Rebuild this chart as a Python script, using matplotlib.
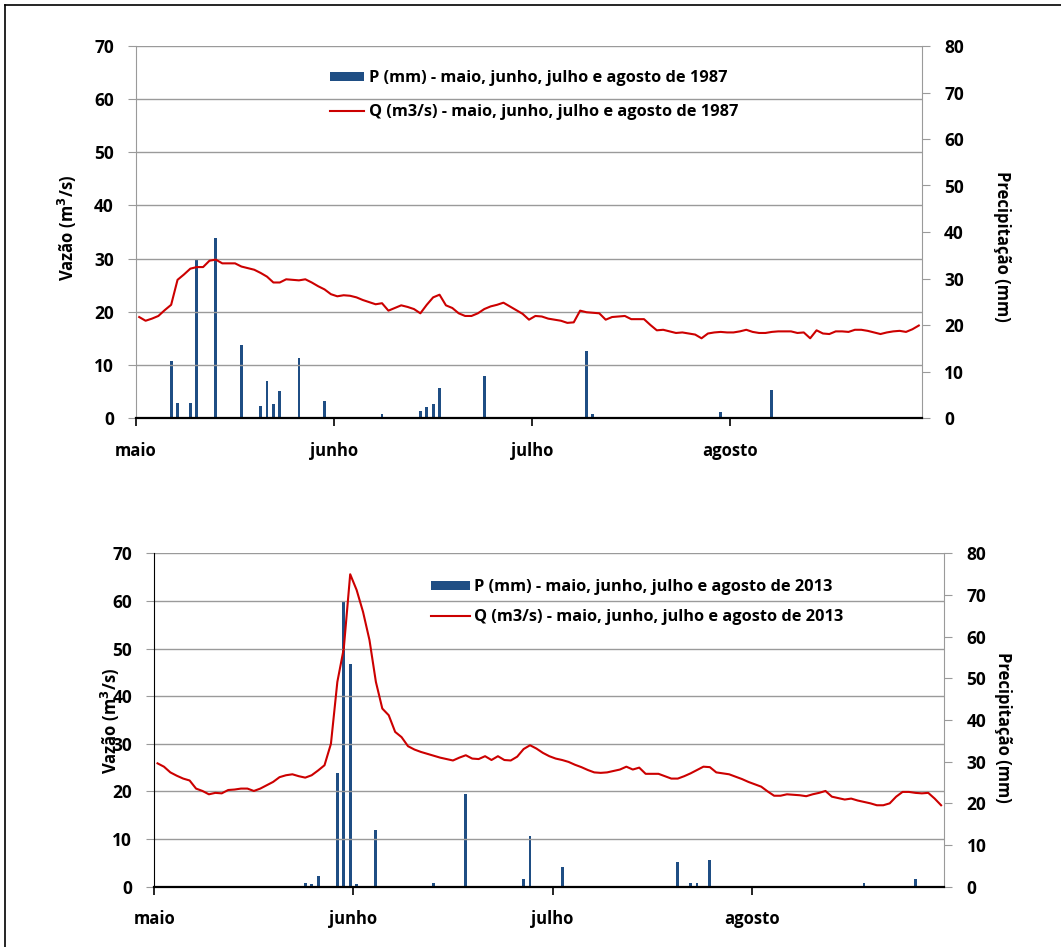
import matplotlib
matplotlib.use("Agg")
import matplotlib.pyplot as plt
from matplotlib.lines import Line2D
import numpy as np

FONT = ['Open Sans', 'DejaVu Sans']
plt.rcParams['font.family'] = FONT

months = ["maio", "junho", "julho", "agosto"]
month_starts = [0, 31, 62, 93]

q_1987 = [19.0, 18.3, 18.7, 19.2, 20.3, 21.3, 26.0, 27.0, 28.1, 28.4,
          28.4, 29.6, 29.8, 29.1, 29.1, 29.1, 28.5, 28.2, 27.9, 27.3,
          26.6, 25.5, 25.5, 26.1, 26.0, 25.9, 26.1, 25.5, 24.8, 24.2,
          23.3, 22.9, 23.1, 23.0, 22.7, 22.2, 21.8, 21.4, 21.6, 20.2,
          20.7, 21.2, 20.9, 20.5, 19.7, 21.3, 22.7, 23.2, 21.2, 20.7,
          19.7, 19.2, 19.2, 19.7, 20.5, 21.0, 21.3, 21.7, 21.0, 20.3,
          19.6, 18.5, 19.2, 19.1, 18.7, 18.5, 18.3, 17.9, 18.0, 20.2,
          19.9, 19.8, 19.7, 18.5, 19.0, 19.1, 19.2, 18.6, 18.6, 18.6,
          17.5, 16.5, 16.6, 16.3, 16.0, 16.1, 15.9, 15.7, 15.0, 15.9,
          16.1, 16.2, 16.1, 16.1, 16.3, 16.6, 16.2, 16.0, 16.0, 16.2,
          16.3, 16.3, 16.3, 16.0, 16.1, 15.0, 16.5, 15.9, 15.8, 16.3,
          16.3, 16.2, 16.6, 16.6, 16.4, 16.1, 15.8, 16.1, 16.3, 16.4,
          16.2, 16.7, 17.4]

p_1987_days = [5, 6, 8, 9, 12, 16, 19, 20, 21, 22, 25, 29, 38, 44, 45, 46, 47, 54, 70, 71, 91, 99]
p_1987_vals = [12.2, 3.2, 3.2, 34.2, 38.8, 15.8, 2.5, 8.0, 3.1, 5.9, 12.8, 3.7, 0.9, 1.4, 2.3, 3.1, 6.4, 9.1, 14.5, 0.9, 1.3, 6.1]

q_2013 = [25.9, 25.2, 24.0, 23.3, 22.7, 22.3, 20.6, 20.1, 19.4, 19.7,
          19.6, 20.3, 20.4, 20.6, 20.6, 20.1, 20.6, 21.3, 22.0, 23.0,
          23.4, 23.6, 23.2, 22.9, 23.4, 24.4, 25.5, 30.0, 43.0, 50.0,
          65.6, 62.3, 57.7, 51.8, 43.0, 37.4, 36.0, 32.5, 31.4, 29.5,
          28.8, 28.3, 27.9, 27.5, 27.1, 26.8, 26.5, 27.1, 27.6, 26.9,
          26.8, 27.4, 26.6, 27.4, 26.6, 26.5, 27.3, 28.9, 29.7, 29.0,
          28.1, 27.4, 26.9, 26.6, 26.2, 25.6, 25.1, 24.5, 24.0, 23.9,
          24.0, 24.3, 24.6, 25.2, 24.6, 25.0, 23.7, 23.7, 23.7, 23.2,
          22.7, 22.7, 23.2, 23.8, 24.5, 25.2, 25.1, 24.0, 23.8, 23.6,
          23.1, 22.6, 22.0, 21.5, 21.0, 20.0, 19.1, 19.1, 19.4, 19.3,
          19.2, 19.0, 19.4, 19.7, 20.1, 18.9, 18.6, 18.3, 18.5, 18.1,
          17.8, 17.5, 17.1, 17.1, 17.5, 18.9, 19.9, 19.9, 19.7, 19.6,
          19.7, 18.5, 17.1]

p_2013_days = [23, 24, 25, 28, 29, 30, 31, 34, 43, 48, 57, 58, 63, 81, 83, 84, 86, 110, 118]
p_2013_vals = [1.0, 0.6, 2.6, 27.2, 68.4, 53.4, 0.6, 13.6, 0.8, 22.2, 1.8, 12.2, 4.8, 6.0, 1.0, 1.0, 6.4, 1.0, 1.8]

BAR = '#1F4E84'
LINE = '#CC0000'
GRID = '#9A9A9A'

W, H = 1061, 947
fig = plt.figure(figsize=(W / 100, H / 100), dpi=100)

# frame lines (top and left visible)
fig.add_artist(Line2D([5 / W, 5 / W], [0, 1 - 5 / H], color='black', lw=1.2, transform=fig.transFigure))
fig.add_artist(Line2D([5 / W, 1], [1 - 5 / H, 1 - 5 / H], color='black', lw=1.2, transform=fig.transFigure))


def make_panel(rect, q, pdays, pvals, year, left_spine_color, ylab_x, ylab_y, rlab_x, rlab_y,
               leg_xy, leg_spacing, hlen):
    ax = fig.add_axes(rect)
    ax2 = ax.twinx()
    ax.set_zorder(ax2.get_zorder() + 1)
    ax.patch.set_visible(False)

    n = len(q)
    xs = np.arange(n) + 0.5
    bars = ax2.bar(np.array(pdays) + 0.5, pvals, width=0.45, color=BAR,
                   label=f'P (mm) - maio, junho, julho e agosto de {year}')
    line, = ax.plot(xs, q, color=LINE, lw=1.5,
                    label=f'Q (m3/s) - maio, junho, julho e agosto de {year}')

    ax.set_xlim(0, n)
    ax.set_ylim(0, 70)
    ax2.set_ylim(0, 80)
    ax.set_yticks(np.arange(0, 71, 10))
    ax2.set_yticks(np.arange(0, 81, 10))
    ax.set_xticks(month_starts)
    ax.set_xticklabels(months)
    ax.yaxis.grid(True, color=GRID, lw=1.0)
    ax.set_axisbelow(True)

    for a in (ax, ax2):
        a.spines['top'].set_visible(False)
    ax.spines['right'].set_visible(False)
    ax2.spines['left'].set_visible(False)
    ax2.spines['bottom'].set_visible(False)
    ax.spines['left'].set_color(left_spine_color)
    ax2.spines['right'].set_color(GRID)
    ax.spines['bottom'].set_color('black')
    ax.spines['bottom'].set_linewidth(1.6)

    ax.tick_params(axis='y', direction='out', length=6, color=GRID, pad=10,
                   labelsize=12.5)
    ax2.tick_params(axis='y', direction='out', length=6, color=GRID, pad=10,
                    labelsize=12.5)
    ax.tick_params(axis='x', direction='out', length=6, width=1.2, color='black',
                   pad=11, labelsize=12)
    for lab in ax.get_yticklabels() + ax2.get_yticklabels() + ax.get_xticklabels():
        lab.set_fontweight('bold')

    ax.set_ylabel('Vazão (m$^\\mathbf{3}$/s)', fontsize=12, fontweight='bold')
    ax.yaxis.set_label_coords(ylab_x, ylab_y)
    ax2.set_ylabel('Precipitação (mm)', fontsize=12, fontweight='bold', rotation=-90,
                   va='center')
    ax2.yaxis.set_label_coords(rlab_x, rlab_y)

    ax.legend([bars, line], [bars.get_label(), line.get_label()],
              loc='upper left', bbox_to_anchor=(leg_xy[0] / W, 1 - leg_xy[1] / H),
              bbox_transform=fig.transFigure, frameon=False,
              handlelength=hlen, handleheight=0.5, handletextpad=0.3,
              borderpad=0, borderaxespad=0, labelspacing=leg_spacing,
              prop={'size': 11.8, 'weight': 'bold', 'family': FONT})
    return ax, ax2


make_panel([136 / W, 1 - 418 / H, 786 / W, 372 / H], q_1987, p_1987_days, p_1987_vals, 1987,
           GRID, -0.0725, 0.51, 1.1018, 0.462, (330, 70), 1.1, 2.1)
make_panel([154.3 / W, 1 - 886.7 / H, 790 / W, 333.4 / H], q_2013, p_2013_days, p_2013_vals, 2013,
           'black', -0.041, 0.497, 1.074, 0.479, (431, 579), 0.84, 2.35)

fig.savefig('out.png', dpi=100)
